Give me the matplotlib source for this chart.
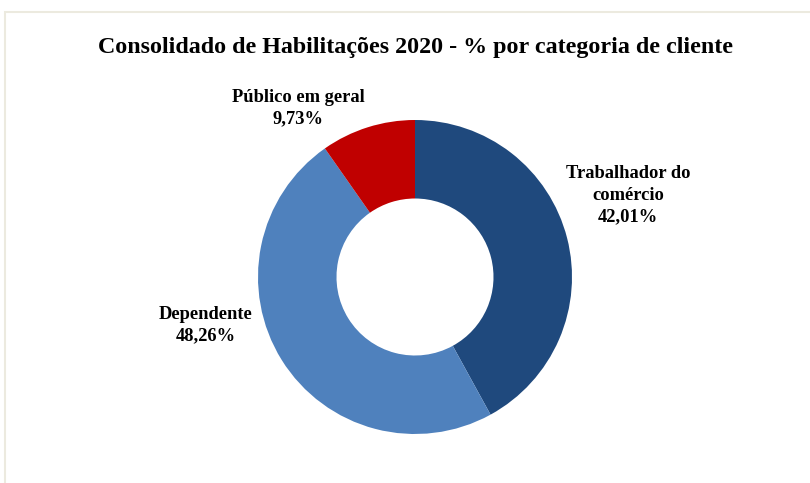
import matplotlib.pyplot as plt
from matplotlib.patches import Rectangle

categories = ['Trabalhador do\ncomércio', 'Dependente', 'Público em geral']
values = [42.01, 48.26, 9.73]
colors = ['#1F497D', '#4F81BD', '#C00000']
title = 'Consolidado de Habilitações 2020 - % por categoria de cliente'

plt.rcParams['font.family'] = ['Liberation Serif', 'DejaVu Serif']

W, H = 810, 483
fig = plt.figure(figsize=(W / 100, H / 100), dpi=100)
ax = fig.add_axes([0, 0, 1, 1])
ax.axis('off')

def py(y):
    # pixel row (from top) -> data y
    return H - y

# light frame like the spreadsheet chart area
ax.add_patch(Rectangle((5, -20), W + 20, py(12) + 20, fill=False, edgecolor='#ECEADF', linewidth=1.5))

cx, cy, r = 415, 277, 157
wedges, _ = ax.pie(values, colors=colors, startangle=90, counterclock=False,
                   center=(cx, py(cy)), radius=r, wedgeprops=dict(width=r * 0.5, edgecolor='none'))
ax.set_xlim(0, W)
ax.set_ylim(0, H)
ax.set_aspect('equal')

ax.text(415, py(47), title, ha='center', va='center', fontsize=17.3, fontweight='bold')

label_pos = [(628, 195), (206, 325), (298, 108)]
for name, v, (x, y) in zip(categories, values, label_pos):
    txt = name + '\n' + ('%.2f' % v).replace('.', ',') + '%'
    ax.text(x, py(y), txt, ha='center', va='center', fontsize=13.3, fontweight='bold',
            linespacing=1.35)

fig.savefig('out.png', dpi=100)
